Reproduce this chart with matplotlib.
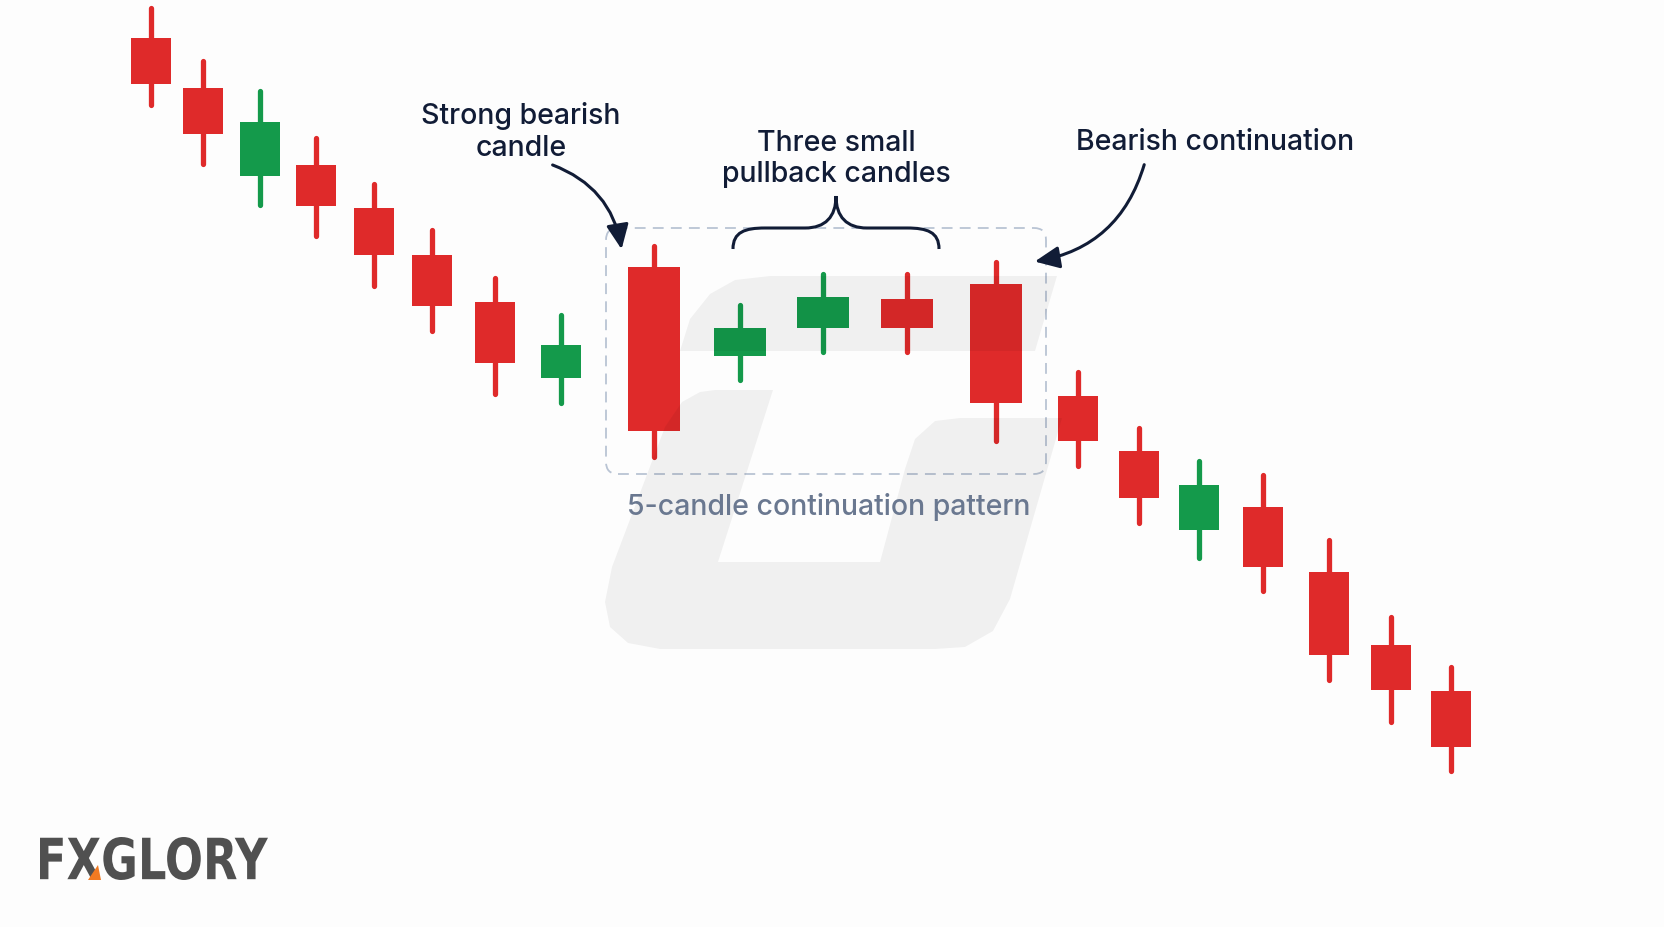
import matplotlib
matplotlib.use("Agg")
import matplotlib.pyplot as plt
from matplotlib.patches import Rectangle, FancyBboxPatch, FancyArrowPatch, PathPatch, Polygon
from matplotlib.path import Path
from matplotlib.textpath import TextPath
from matplotlib.font_manager import FontProperties
from matplotlib.transforms import Affine2D

plt.rcParams["font.family"] = ["Inter", "DejaVu Sans"]

# ----------------------------
# Candle data (x = bar position, prices on the chart scale)
# ----------------------------
candle_x = [151, 203, 260, 316, 374, 432, 495, 561,
            654, 740, 823, 907, 996,
            1078, 1139, 1199, 1263, 1329, 1391, 1451]
opens = [889, 839, 751, 762, 719, 672, 625, 549,
         660, 571, 599, 628, 643,
         531, 476, 397, 420, 355, 282, 236]
highs = [919, 866, 836, 789, 743, 697, 649, 612,
         681, 622, 653, 653, 665,
         555, 499, 466, 452, 387, 310, 260]
lows = [822, 763, 722, 691, 641, 596, 533, 524,
        470, 547, 575, 575, 486,
        461, 404, 369, 336, 247, 205, 156]
closes = [843, 793, 805, 721, 672, 621, 564, 582,
          496, 599, 630, 599, 524,
          486, 429, 442, 360, 272, 237, 180]
pattern_idx = [8, 9, 10, 11, 12]   # the 5-candle continuation pattern

RED = "#df2a2a"
GREEN = "#149a4b"
NAVY = "#111c36"

fig = plt.figure(figsize=(16.64, 9.28), dpi=100, facecolor="#fdfdfd")
ax = fig.add_axes([0, 0, 1, 1])
ax.set_xlim(0, 1664)
ax.set_ylim(0, 928)
ax.axis("off")

# ----------------------------
# Candles
# ----------------------------
for i, (x, o, h, l, c) in enumerate(zip(candle_x, opens, highs, lows, closes)):
    col = GREEN if c > o else RED
    w = 52 if i in pattern_idx else 40
    ax.plot([x, x], [l, h], color=col, lw=3.8, solid_capstyle="round", zorder=2)
    ax.add_patch(Rectangle((x - w / 2, min(o, c)), w, abs(c - o),
                           facecolor=col, edgecolor="none", zorder=3))

# ----------------------------
# Watermark logo (light, translucent)
# ----------------------------
upper_bar = [(680, 576), (690, 608), (710, 633), (735, 647), (770, 651),
             (1057, 651), (1035, 576)]
lower_shape = [(715, 537), (773, 537), (718, 365), (880, 365), (905, 458),
               (915, 488), (935, 506), (960, 509), (1062, 509), (1010, 328),
               (993, 296), (965, 280), (935, 278), (660, 278), (628, 284),
               (610, 300), (605, 325), (612, 360), (665, 500), (682, 525),
               (700, 535)]
for pts in (upper_bar, lower_shape):
    ax.add_patch(Polygon(pts, closed=True, facecolor="black", alpha=0.05,
                         edgecolor="none", zorder=4))

# ----------------------------
# Pattern box + label
# ----------------------------
ax.add_patch(FancyBboxPatch((606, 453), 440, 246,
                            boxstyle="round,pad=0,rounding_size=12",
                            facecolor="none", edgecolor="#b9c4d4", lw=1.3,
                            linestyle=(0, (6, 4)), zorder=1))
ax.text(829, 421, "5-candle continuation pattern", ha="center", va="center",
        fontsize=20.5, color="#6a7890", weight="medium", zorder=5)

# ----------------------------
# Annotations
# ----------------------------
ax.text(521, 796, "Strong bearish\ncandle", ha="center", va="center",
        fontsize=20.5, color=NAVY, weight="medium", linespacing=1.2, zorder=5)
ax.text(836, 769, "Three small\npullback candles", ha="center", va="center",
        fontsize=20.5, color=NAVY, weight="medium", linespacing=1.2, zorder=5)
ax.text(1215, 786, "Bearish continuation", ha="center", va="center",
        fontsize=20.5, color=NAVY, weight="medium", zorder=5)

arrow_kw = dict(arrowstyle="-|>,head_length=1.0,head_width=0.45",
                mutation_scale=15, color=NAVY, lw=2.2, zorder=6)
ax.add_patch(FancyArrowPatch((550, 763), (622, 675),
                             connectionstyle="arc3,rad=-0.3", **arrow_kw))
ax.add_patch(FancyArrowPatch((1145, 765), (1032, 665),
                             connectionstyle="arc3,rad=-0.32", **arrow_kw))

# curly brace over the three pullback candles
brace_verts = [(733, 678), (733, 695), (745, 699), (765, 699),
               (805, 699),
               (825, 699), (836, 710), (836, 731),
               (836, 710), (847, 699), (867, 699),
               (907, 699),
               (927, 699), (939, 695), (939, 678)]
brace_codes = [Path.MOVETO, Path.CURVE4, Path.CURVE4, Path.CURVE4,
               Path.LINETO,
               Path.CURVE4, Path.CURVE4, Path.CURVE4,
               Path.CURVE4, Path.CURVE4, Path.CURVE4,
               Path.LINETO,
               Path.CURVE4, Path.CURVE4, Path.CURVE4]
ax.add_patch(PathPatch(Path(brace_verts, brace_codes), facecolor="none",
                       edgecolor=NAVY, lw=2.2, zorder=6))

# ----------------------------
# FXGLORY logo
# ----------------------------
tp = TextPath((0, 0), "FXGLORY", size=1,
              prop=FontProperties(family="DejaVu Sans", weight="bold"))
ext = tp.get_extents()
logo_tr = (Affine2D().translate(-ext.x0, -ext.y0)
           .scale(228 / ext.width, 43 / ext.height).translate(40, 47))
ax.add_patch(PathPatch(logo_tr.transform_path(tp), facecolor="#505050",
                       edgecolor="none", zorder=5))
ax.add_patch(Polygon([(88, 47), (101, 47), (98, 62)], closed=True,
                     facecolor="#f07a22", edgecolor="none", zorder=6))

fig.savefig("out.png", dpi=100, facecolor=fig.get_facecolor())
